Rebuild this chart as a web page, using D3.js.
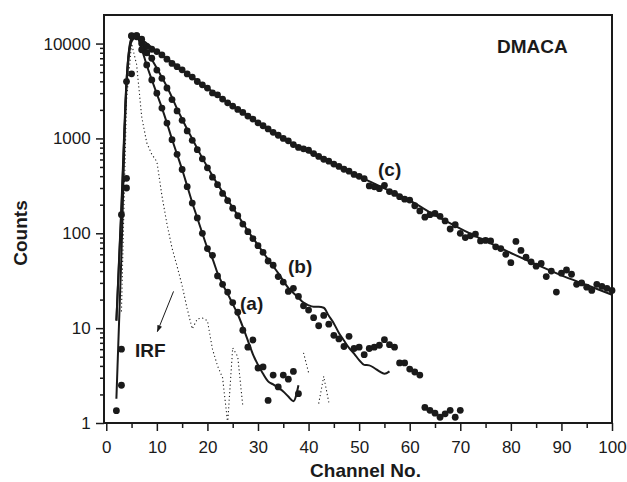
<!DOCTYPE html>
<html>
<head>
<meta charset="utf-8">
<script src="https://d3js.org/d3.v7.min.js"></script>
<style>
  body { margin: 0; background: #fff; }
  text { font-family: "Liberation Sans", Arial, Helvetica, sans-serif; fill: #1a1a1a; }
</style>
</head>
<body>
<svg id="chart" width="627" height="482"></svg>
<script>
// decay curves, one count per channel
const aStart = 2;
const aCounts = [1.35, 6, 380, 12100, 11800, 8600, 5960, 4140, 3000, 2090, 1450, 970, 680, 470, 310, 208, 145, 100,
  69, 58.5, 35.5, 29, 24, 18.6, 14.7, 9.5, 6.3, 7.5, 3.8, 3.9, 1.73, 3.2, 2.4, 3.2, 2.9, 3.5, 2.04];
const aFit = [1.8, 60, 4000, 11500, 11800, 8800, 5900, 4150, 2950, 2100, 1450, 980, 680, 470, 315, 210, 145, 100,
  70, 54, 38, 29, 23, 18, 14, 10.3, 7.4, 5.3, 4.1, 3.3, 2.75, 2.55, 2.35, 2.15, 1.9, 1.7, 2.5];

const bStart = 3;
const bCounts = [2.5, 300, 4800, 12100, 10000, 8000, 7000, 5250, 4300, 3400, 2570, 1950, 1550, 1200, 955, 760, 610,
  490, 390, 325, 263, 221, 184, 153, 125, 104, 88, 74, 63, 51, 46, 35, 30.6, 24.4, 26.3, 21.6, 17.2, 15.5, 12.9,
  10.6, 13.6, 11.0, 8.4, 7.7, 6.4, 8.2, 6.1, 6.3, 5.25, 6.1, 6.3, 6.6, 7.55, 6.7, 6.3, 4.3, 4.3, 3.7, 3.45, 3.2,
  1.46, 1.36, 1.27, 1.15, 1.25, 1.36, 1.15, 1.36];
const bFitStart = 2;
const bFit = [12, 180, 3500, 10500, 11800, 10000, 8300, 6800, 5500, 4400, 3500, 2700, 2050, 1600, 1250, 990, 780,
  620, 500, 405, 330, 272, 225, 187, 155, 128, 106, 89, 75, 63, 53, 45, 38, 31.5, 26.5, 23.5, 20.9, 18.6, 17.4,
  16.8, 16.8, 16.4, 13.5, 11.2, 8.9, 7.4, 6.2, 5.4, 4.6, 4.1, 4.05, 3.8, 3.5, 3.3, 3.5];

const cStart = 3;
const cCounts = [157, 3970, 12000, 12100, 11100, 9330, 8710, 8240, 7590, 6840, 6170, 5710, 5280, 4790, 4430, 3980,
  3670, 3390, 3020, 2880, 2600, 2370, 2190, 2020, 1880, 1720, 1600, 1460, 1360, 1260, 1160, 1080, 1000, 944, 861,
  804, 776, 750, 692, 646, 603, 575, 537, 507, 473, 452, 417, 398, 376, 316, 309, 295, 320, 275, 263, 243, 229,
  224, 195, 172, 148, 157, 162, 151, 135, 111, 123, 100, 90, 94, 98, 83, 84, 83, 72, 69, 60, 49, 82, 66, 56, 50,
  45, 48, 35, 40, 24, 38, 41, 37, 29, 30, 27, 25, 29, 27.5, 26.3, 25];
const cFitChannels = [2, 3, 4, 5, 6, 7, 10, 15, 20, 25, 30, 35, 40, 45, 50, 55, 60, 65, 70, 75, 80, 85, 90, 95, 100];
const cFit = [12, 200, 4000, 11000, 12000, 11000, 8300, 5300, 3400, 2200, 1470, 1000, 720, 530, 395, 298, 222, 155,
  112, 83, 62, 47, 36, 28.5, 22.5];

// instrument response, null where the count is zero
const irfStart = 3;
const irfCounts = [15, 2500, 10000, 6000, 1700, 900, 680, 570, 250, 125, 70, 45, 28, 16, 9.8, 12.5, 12.8, 12, 6, 4,
  3, 1, 6.2, 5, 1.5, null, null, null, null, null, null, null, null, null, null, null, 5.5, 3.4, null, 1.6, 3.1, 1.65];

const xTicks = [0, 10, 20, 30, 40, 50, 60, 70, 80, 90, 100];
const xMinor = [5, 15, 25, 35, 45, 55, 65, 75, 85, 95];
const yTicks = [1, 10, 100, 1000, 10000];

const W = 627, H = 482;
const margin = {top: 15, right: 15, bottom: 59, left: 104};
const ink = '#1a1a1a';

const svg = d3.select('#chart');

const x = d3.scaleLinear().domain([-0.45, 100]).range([margin.left, W - margin.right]);
const y = d3.scaleLog().domain([1, 20000]).range([H - margin.bottom, margin.top]);

const toPoints = (start, arr) => arr.map((v, i) => ({ch: start + i, v: v}));

// minor log ticks 2..9 in each decade
const yMinor = [];
[1, 10, 100, 1000].forEach(d => { for (let k = 2; k <= 9; k++) yMinor.push(d * k); });

// axes
const xAxisG = svg.append('g').attr('transform', `translate(0,${H - margin.bottom})`);
xAxisG.append('g').call(d3.axisBottom(x).tickValues(xMinor).tickSize(5).tickSizeOuter(0).tickFormat(''));
xAxisG.append('g').call(d3.axisBottom(x).tickValues(xTicks).tickSize(8).tickSizeOuter(0).tickPadding(9.5)
  .tickFormat(d3.format('d')));

const yAxisG = svg.append('g').attr('transform', `translate(${margin.left},0)`);
yAxisG.append('g').call(d3.axisLeft(y).tickValues(yMinor).tickSize(4).tickSizeOuter(0).tickFormat(''));
yAxisG.append('g').call(d3.axisLeft(y).tickValues(yTicks).tickSize(8).tickSizeOuter(0).tickPadding(5.3)
  .tickFormat(d3.format('d')));

svg.selectAll('.domain').remove();
svg.selectAll('.tick line').attr('stroke', ink).attr('stroke-width', 1.5);
svg.selectAll('.tick text').attr('font-size', 17).attr('fill', ink)
  .style('font-family', '"Liberation Sans", Arial, Helvetica, sans-serif');

// frame
svg.append('rect')
  .attr('x', margin.left).attr('y', margin.top)
  .attr('width', W - margin.left - margin.right)
  .attr('height', H - margin.top - margin.bottom)
  .attr('fill', 'none').attr('stroke', ink).attr('stroke-width', 2);

const plot = svg.append('g');

// IRF dotted
const irfLine = d3.line().defined(d => d.v != null).x(d => x(d.ch)).y(d => y(d.v));
plot.append('path')
  .datum(toPoints(irfStart, irfCounts))
  .attr('d', irfLine)
  .attr('fill', 'none').attr('stroke', '#222').attr('stroke-width', 1.1)
  .attr('stroke-dasharray', '1.2,2.6');

// fitted curves
const fitLine = d3.line().x(d => x(d.ch)).y(d => y(d.v)).curve(d3.curveMonotoneX);
[toPoints(aStart, aFit), toPoints(bFitStart, bFit), cFitChannels.map((c, i) => ({ch: c, v: cFit[i]}))]
  .forEach(pts => {
    plot.append('path').datum(pts).attr('d', fitLine)
      .attr('fill', 'none').attr('stroke', ink).attr('stroke-width', 2);
  });

// measured points
[toPoints(aStart, aCounts), toPoints(bStart, bCounts), toPoints(cStart, cCounts)].forEach(pts => {
  plot.append('g').selectAll('circle').data(pts).enter().append('circle')
    .attr('cx', d => x(d.ch)).attr('cy', d => y(d.v)).attr('r', 3.4).attr('fill', ink);
});

// labels
const lab = (t, ch, v) => svg.append('text').attr('x', x(ch)).attr('y', y(v))
  .attr('font-size', 19).attr('font-weight', 'bold').text(t);
lab('DMACA', 77.26, 7950);
lab('(c)', 53.73, 402);
lab('(b)', 35.93, 38.1);
lab('(a)', 26.44, 15.7);
lab('IRF', 5.68, 4.93);

// arrow pointing at IRF curve
svg.append('defs').append('marker')
  .attr('id', 'head').attr('viewBox', '0 0 10 10').attr('refX', 9).attr('refY', 5)
  .attr('markerWidth', 7).attr('markerHeight', 7).attr('orient', 'auto')
  .append('path').attr('d', 'M0,1.5 L10,5 L0,8.5 Z').attr('fill', ink);
svg.append('line')
  .attr('x1', x(13.3)).attr('y1', y(24.4)).attr('x2', x(10.1)).attr('y2', y(9.2))
  .attr('stroke', ink).attr('stroke-width', 1).attr('marker-end', 'url(#head)');

// axis titles
svg.append('text').attr('x', 365.5).attr('y', 477).attr('text-anchor', 'middle')
  .attr('font-size', 19).attr('font-weight', 'bold').text('Channel No.');
svg.append('text').attr('transform', 'translate(26.5,233) rotate(-90)').attr('text-anchor', 'middle')
  .attr('font-size', 19).attr('font-weight', 'bold').text('Counts');
</script>
</body>
</html>
